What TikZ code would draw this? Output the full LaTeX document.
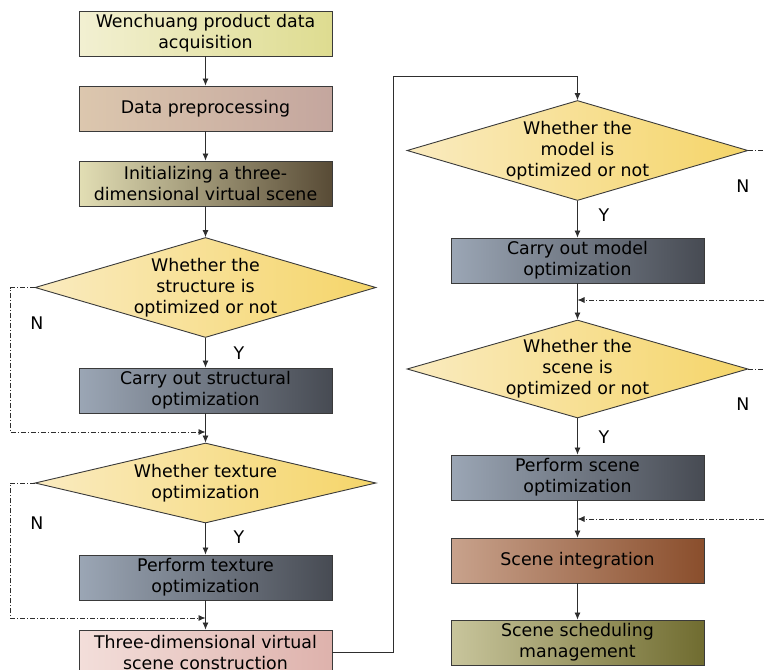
\documentclass[tikz,border=0pt]{standalone}
\usepackage{fontspec}
\setmainfont{DejaVu Sans}
\usetikzlibrary{shapes.geometric,arrows.meta}

\definecolor{edgegray}{HTML}{3A3A3A}
\definecolor{flowgray}{HTML}{2E2E2E}
\definecolor{diaL}{HTML}{FAEBC0}
\definecolor{diaR}{HTML}{F5D569}
\definecolor{optL}{HTML}{9BA6B5}
\definecolor{optR}{HTML}{474B53}
\definecolor{acqL}{HTML}{F2F0D2}
\definecolor{acqR}{HTML}{DEDC90}
\definecolor{prepL}{HTML}{DCC7AE}
\definecolor{prepR}{HTML}{C4A69E}
\definecolor{initL}{HTML}{E2DEB4}
\definecolor{initR}{HTML}{584B36}
\definecolor{buildL}{HTML}{F3DEDA}
\definecolor{buildR}{HTML}{DEB2AC}
\definecolor{integL}{HTML}{C8A28C}
\definecolor{integR}{HTML}{8A4E2C}
\definecolor{schedL}{HTML}{C8C59C}
\definecolor{schedR}{HTML}{706C30}

\begin{document}
\begin{tikzpicture}[x=1pt, y=-1pt,
    box/.style={draw=edgegray, line width=0.9pt, minimum width=253pt, minimum height=45pt,
      inner sep=0pt, align=center, font=\fontsize{17.4}{21}\selectfont},
    optbox/.style={box, left color=optL, right color=optR},
    test/.style={diamond, aspect=3.41, draw=edgegray, line width=0.9pt, minimum width=341pt, minimum height=100pt,
      inner xsep=-20pt, inner ysep=0pt, align=center, font=\fontsize{17.4}{21}\selectfont, left color=diaL, right color=diaR},
    flow/.style={draw=flowgray, line width=0.8pt, -{Latex[length=7pt,width=6pt]}},
    noflow/.style={flow, dash pattern=on 5pt off 2pt on 1pt off 2pt},
    yn/.style={font=\fontsize{17.4}{21}\selectfont}]
    \useasboundingbox (0,0) rectangle (764,670);

    % Left column
    \node[box, left color=acqL, right color=acqR] (acq) at (205.5,33.5) {Wenchuang product data\\acquisition};
    \node[box, left color=prepL, right color=prepR] (prep) at (205.5,108.5) {Data preprocessing};
    \node[box, left color=initL, right color=initR] (init) at (205.5,183.5) {Initializing a three-\\dimensional virtual scene};
    \node[test] (qstruct) at (205.5,287.5) {Whether the\\structure is\\optimized or not};
    \node[optbox] (struct) at (205.5,390.5) {Carry out structural\\optimization};
    \node[test, minimum height=80pt] (qtex) at (205.5,483) {Whether texture\\optimization};
    \node[optbox] (tex) at (205.5,577.5) {Perform texture\\optimization};
    \node[box, left color=buildL, right color=buildR] (build) at (205.5,652.5) {Three-dimensional virtual\\scene construction};

    % Right column
    \node[test] (qmodel) at (577.5,150.5) {Whether the\\model is\\optimized or not};
    \node[optbox] (model) at (577.5,260.5) {Carry out model\\optimization};
    \node[test, minimum height=98pt] (qscene) at (577.5,369) {Whether the\\scene is\\optimized or not};
    \node[optbox] (scene) at (577.5,477.5) {Perform scene\\optimization};
    \node[box, left color=integL, right color=integR] (integ) at (577.5,560.5) {Scene integration};
    \node[box, left color=schedL, right color=schedR] (sched) at (577.5,642.5) {Scene scheduling\\management};

    % Junctions and turning points
    \coordinate (j1) at (205.5,432);
    \coordinate (j2) at (205.5,618);
    \coordinate (j3) at (577.5,300);
    \coordinate (j4) at (577.5,519);
    \coordinate (back1) at (10,432);
    \coordinate (back2) at (10,618);
    \coordinate (turn) at (393,76);
    \coordinate (out1) at (764,150.5);
    \coordinate (out2) at (764,369);
    \coordinate (in1) at (764,300);
    \coordinate (in2) at (764,519);

    % Connections
    \draw[flow] (acq) -- (prep);
    \draw[flow] (prep) -- (init);
    \draw[flow] (init) -- (qstruct);
    \draw[flow] (qstruct) -- (struct);
    \draw[flow] (struct) -- (qtex);
    \draw[flow] (qtex) -- (tex);
    \draw[flow] (tex) -- (build);
    \draw[flow] (build.east) -| (turn) -| (qmodel.north);
    \draw[flow] (qmodel) -- (model);
    \draw[flow] (model) -- (qscene);
    \draw[flow] (qscene) -- (scene);
    \draw[flow] (scene) -- (integ);
    \draw[flow] (integ) -- (sched);

    % N branches
    \draw[noflow] (qstruct.west) -| (back1) -- (j1);
    \draw[noflow] (qtex.west) -| (back2) -- (j2);
    \draw[noflow, -] (qmodel.east) -- (out1);
    \draw[noflow, -] (qscene.east) -- (out2);
    \draw[noflow] (in1) -- (j3);
    \draw[noflow] (in2) -- (j4);

    % Labels
    \node[yn] (y1) at (239,353) {Y};
    \node[yn] (n1) at (37,323) {N};
    \node[yn] (y2) at (239,537) {Y};
    \node[yn] (n2) at (37,523) {N};
    \node[yn] (y3) at (604,215) {Y};
    \node[yn] (n3) at (743,186) {N};
    \node[yn] (y4) at (604,437) {Y};
    \node[yn] (n4) at (743,404) {N};
\end{tikzpicture}
\end{document}
